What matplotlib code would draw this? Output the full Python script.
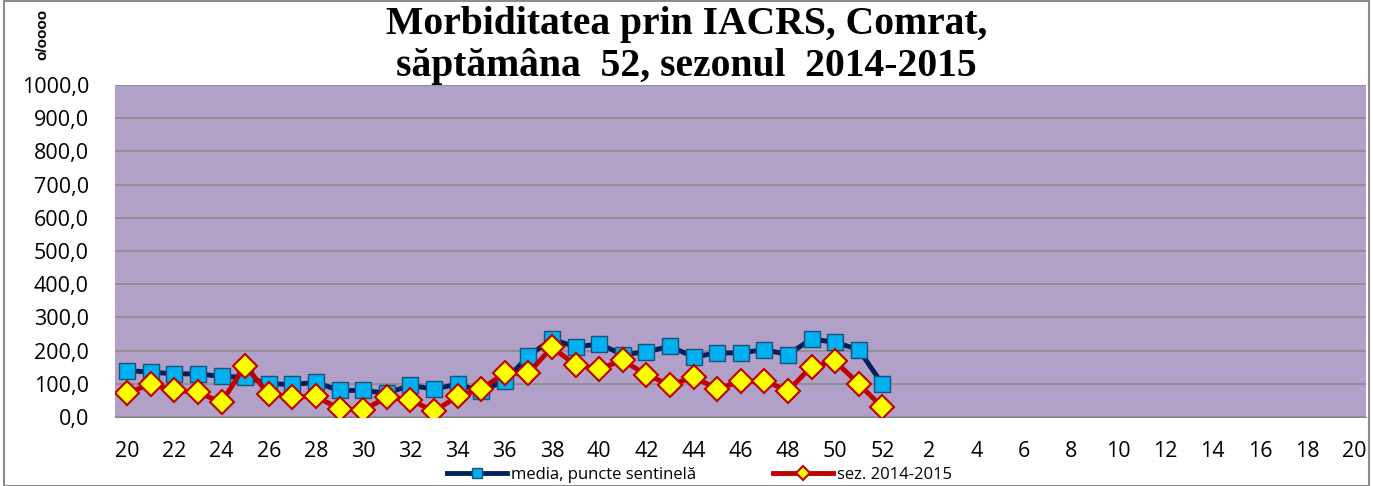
import matplotlib
matplotlib.use("Agg")
import matplotlib.pyplot as plt
from matplotlib.patches import Rectangle

# weeks of the season: 20..52 then 1..20
weeks = list(range(20, 53)) + list(range(1, 21))

media = [140, 135, 130, 130, 122, 120, 100, 98, 104, 80, 80, 72, 95, 84, 99, 78,
         109, 183, 235, 211, 220, 188, 196, 213, 181, 193, 193, 203, 188, 235, 225, 203, 99]
sezon = [72, 99, 80, 74, 44, 155, 69, 60, 62, 24, 21, 59, 52, 17, 62, 84,
         132, 132, 210, 157, 145, 171, 127, 97, 120, 85, 107, 109, 79, 152, 168, 100, 29]

media = media + [None] * (len(weeks) - len(media))
sezon = sezon + [None] * (len(weeks) - len(sezon))

yticks = list(range(0, 1001, 100))

fig = plt.figure(figsize=(13.73, 4.86), dpi=100)
fig.patches.append(Rectangle((0.003, 0.0), 0.994, 0.998, transform=fig.transFigure,
                             fill=False, edgecolor='#8c8c8c', linewidth=1.5))
ax = fig.add_axes([0.084, 0.142, 0.911, 0.683])
ax.set_facecolor('#B1A0C7')

x = list(range(len(weeks)))
ax.plot(x, media, color='#002060', linewidth=3.5, marker='s', markersize=11.5,
        markerfacecolor='#00B0F0', markeredgecolor='#1f4e79', markeredgewidth=1,
        label='media, puncte sentinelă', zorder=3)
ax.plot(x, sezon, color='#C00000', linewidth=3.5, marker='D', markersize=12.5,
        markerfacecolor='#FFFF00', markeredgecolor='#C00000', markeredgewidth=1.5,
        label='sez. 2014-2015', zorder=4)

ax.set_xlim(-0.5, len(weeks) - 0.5)
ax.set_ylim(0, 1000)
ax.set_yticks(yticks)
ax.set_yticklabels([f"{v},0" for v in yticks], fontsize=15.5, family='Open Sans')
ax.set_xticks(x[::2])
ax.set_xticklabels([str(w) for w in weeks[::2]], fontsize=15.5, family='Open Sans')
ax.tick_params(axis='both', length=0)
ax.tick_params(axis='x', pad=17)
ax.tick_params(axis='y', pad=19)
ax.grid(axis='y', color='#8c8c8c', linewidth=1.2)
ax.set_axisbelow(True)
for s in ax.spines.values():
    s.set_visible(False)
ax.spines['bottom'].set_visible(True)
ax.spines['bottom'].set_color('#8c8c8c')

fig.text(0.5, 0.988, "Morbiditatea prin IACRS, Comrat,\nsăptămâna  52, sezonul  2014-2015",
         ha='center', va='top', fontsize=28.5, fontweight='bold', family='Liberation Serif',
         linespacing=1.17)
fig.text(0.031, 0.93, "o/oooo", rotation=90, ha='center', va='center', fontsize=11,
         fontweight='bold', family='Liberation Sans')

ax.legend(loc='center', bbox_to_anchor=(0.467, -0.175), ncol=2, frameon=False,
          handlelength=3.6, columnspacing=4.6, handletextpad=0.25, markerscale=0.6,
          prop={'family': 'Open Sans', 'size': 12})

fig.savefig('out.png', dpi=100)
